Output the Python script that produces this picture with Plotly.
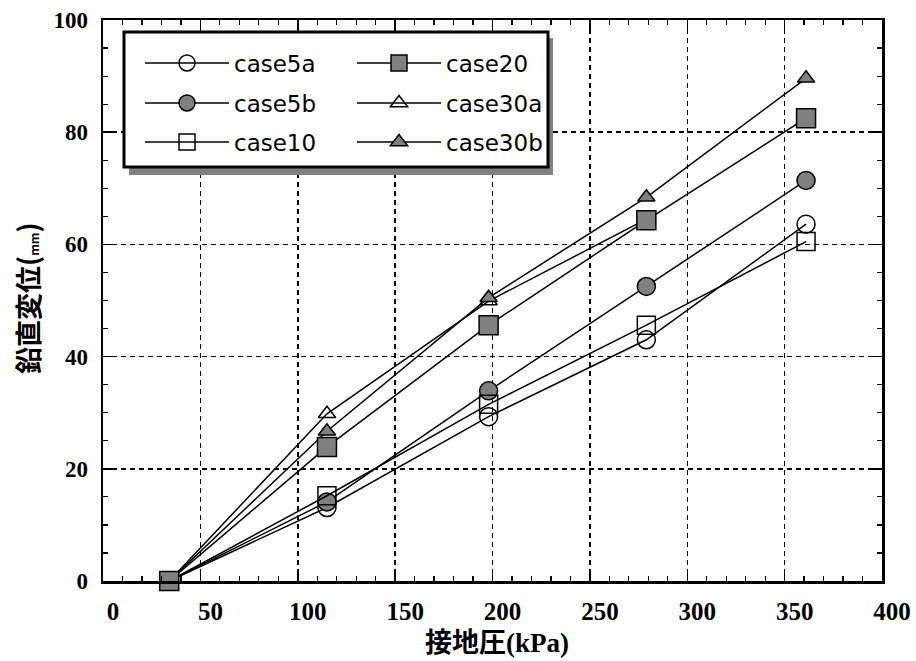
import plotly.graph_objects as go

# ---- data ----
pressure = [34, 115, 198, 279, 361]          # 接地圧 (kPa)
pressure_30a = [34, 115, 198, 279]
case5a = [0, 13.1, 29.3, 43.0, 63.6]
case5b = [0, 14.1, 33.9, 52.5, 71.4]
case10 = [0, 15.2, 31.5, 45.6, 60.5]
case20 = [0, 23.9, 45.6, 64.3, 82.5]
case30a = [0, 29.8, 49.9, 64.5]
case30b = [0, 26.7, 50.5, 68.4, 89.6]

x_ticks = [0, 50, 100, 150, 200, 250, 300, 350, 400]
y_ticks = [0, 20, 40, 60, 80, 100]

GRAY = "#808080"
W, H = 916, 661
L, R, T, B = 103, 34, 20, 80
PW, PH = W - L - R, H - T - B


def px(xp):
    return (xp - L) / PW


def py(yp):
    return (H - B - yp) / PH


series = [
    # name, x, y, symbol, fill, size, legend id
    ("case5a", pressure, case5a, "circle-open", "black", 18, "legend"),
    ("case5b", pressure, case5b, "circle", GRAY, 18, "legend2"),
    ("case10", pressure, case10, "square-open", "black", 18, "legend3"),
    ("case30a", pressure_30a, case30a, "triangle-up-open", "black", 15, "legend5"),
    ("case30b", pressure, case30b, "triangle-up", GRAY, 15, "legend6"),
    ("case20", pressure, case20, "square", GRAY, 19, "legend4"),
]

fig = go.Figure()
for name, xs, ys, sym, col, size, lg in series:
    fig.add_trace(go.Scatter(
        x=xs, y=ys, name=name, mode="lines+markers",
        line=dict(color="black", width=1.5),
        marker=dict(symbol=sym, size=size, color=col,
                    line=dict(color="black", width=1.5)),
        cliponaxis=False, legend=lg,
    ))

# legend positions (one entry per legend, two columns)
row_y = [63, 103, 142]
col_x = [140, 352]
legend_pos = {
    "legend": (col_x[0], row_y[0]), "legend2": (col_x[0], row_y[1]),
    "legend3": (col_x[0], row_y[2]), "legend4": (col_x[1], row_y[0]),
    "legend5": (col_x[1], row_y[1]), "legend6": (col_x[1], row_y[2]),
}
legend_layouts = {}
for key, (lx, ly) in legend_pos.items():
    legend_layouts[key] = dict(
        x=px(lx), y=py(ly), xanchor="left", yanchor="middle",
        bgcolor="rgba(0,0,0,0)", borderwidth=0, itemwidth=84,
        font=dict(family="DejaVu Sans", size=23, color="black"),
    )

grid = dict(showgrid=True, gridcolor="black", gridwidth=1.5, griddash="5px,4px")
axis_common = dict(
    showline=True, linecolor="black", linewidth=2.5, mirror="ticks",
    ticks="inside", ticklen=9, tickwidth=1.5, tickcolor="black",
    zeroline=False, automargin=False, **grid,
)

fig.update_layout(
    width=W, height=H,
    margin=dict(l=L, r=R, t=T, b=B, autoexpand=False),
    paper_bgcolor="white", plot_bgcolor="white",
    showlegend=True,
    xaxis=dict(range=[0, 400], tickvals=x_ticks, ticktext=[str(v) for v in x_ticks],
               minor=dict(dtick=10, tick0=0, ticks="inside", ticklen=5, tickwidth=1.2,
                          tickcolor="black", showgrid=False),
               tickfont=dict(family="Liberation Serif", size=25, color="black", weight="bold"),
               ticklabelshift=10, ticklabelstandoff=6,
               **axis_common),
    yaxis=dict(range=[0, 100], tickvals=y_ticks, ticktext=[str(v) for v in y_ticks],
               minor=dict(dtick=5, tick0=0, ticks="inside", ticklen=5, tickwidth=1.2,
                          tickcolor="black", showgrid=False),
               tickfont=dict(family="Liberation Serif", size=23, color="black", weight="bold"),
               ticklabelstandoff=8,
               **axis_common),
    shapes=[
        dict(type="rect", xref="paper", yref="paper",
             x0=px(129), x1=px(553), y0=py(175), y1=py(38),
             fillcolor=GRAY, line=dict(width=0), layer="above"),
        dict(type="rect", xref="paper", yref="paper",
             x0=px(124), x1=px(548), y0=py(167), y1=py(32),
             fillcolor="white", line=dict(color="black", width=3), layer="above"),
    ],
    annotations=[
        dict(text="接地圧<span style='font-family:Liberation Serif'>(kPa)</span>",
             xref="paper", yref="paper", x=px(497), y=py(640),
             xanchor="center", yanchor="middle", showarrow=False,
             font=dict(family="Noto Sans CJK JP", size=27, color="black", weight="bold")),
        dict(text="鉛直変位(<span style='font-size:12px'>mm</span>)",
             xref="paper", yref="paper", x=px(28), y=py(298), textangle=-90,
             xanchor="center", yanchor="middle", showarrow=False,
             font=dict(family="Noto Sans CJK JP", size=27, color="black", weight="bold")),
    ],
    **legend_layouts,
)

fig.write_html(
    "out.html",
    config={"displayModeBar": False, "staticPlot": True},
    post_script="document.body.style.margin='0';document.body.style.overflow='hidden';",
)
